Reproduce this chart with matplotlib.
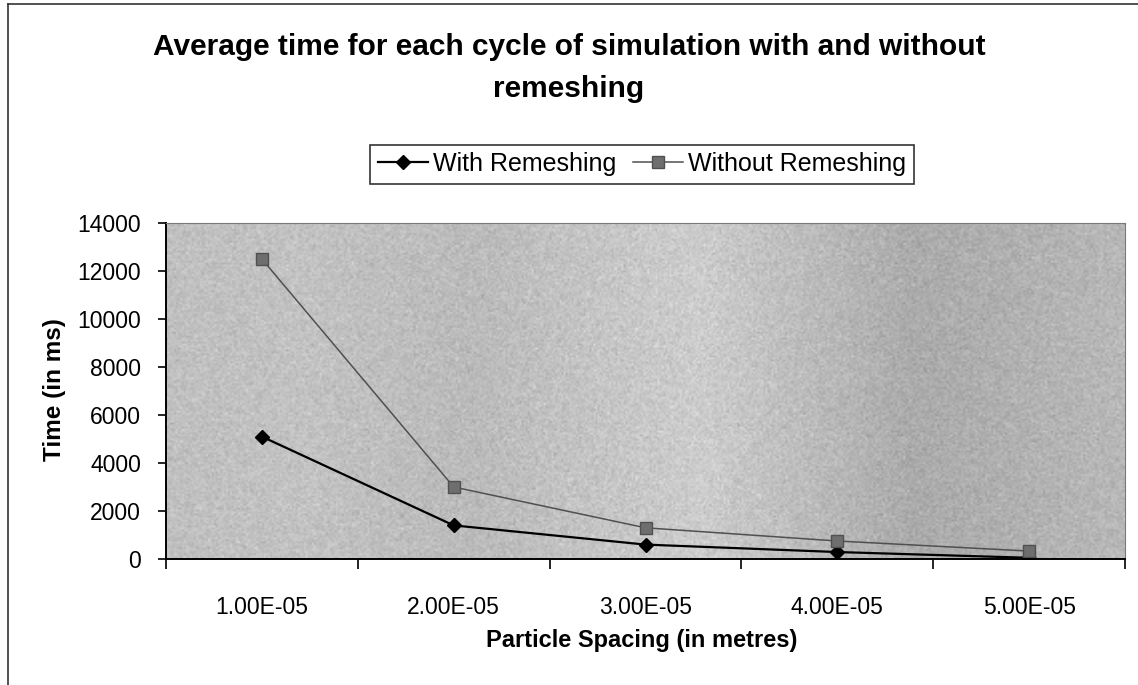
import numpy as np
import matplotlib
matplotlib.use("Agg")
import matplotlib.pyplot as plt
from matplotlib.lines import Line2D

plt.rcParams['font.family'] = ['Liberation Sans', 'DejaVu Sans']

# particle spacing categories and timings (ms)
spacing_labels = ["1.00E-05", "2.00E-05", "3.00E-05", "4.00E-05", "5.00E-05"]
with_remeshing = [5100, 1400, 600, 290, 50]
without_remeshing = [12500, 3000, 1300, 750, 330]

W, H = 1138, 685
fig = plt.figure(figsize=(W / 100, H / 100), dpi=100)
fig.patch.set_facecolor('white')

rect = [166 / W, 1 - 559 / H, (1125 - 166) / W, (559 - 223) / H]

# grainy grey gradient fill behind the plot area
bg = fig.add_axes(rect, zorder=0)
xs = np.linspace(0, 1, 480)
shade = np.interp(xs, [0.0, 0.15, 0.32, 0.48, 0.56, 0.66, 0.78, 0.88, 1.0],
                  [0.75, 0.76, 0.73, 0.78, 0.80, 0.74, 0.67, 0.69, 0.72])
grain = np.random.default_rng(3).normal(0, 0.03, (170, xs.size))
bg.imshow(np.clip(np.tile(shade, (170, 1)) + grain, 0, 1), cmap='gray',
          vmin=0, vmax=1, aspect='auto', interpolation='bilinear',
          extent=[0, 1, 0, 1])
bg.set_axis_off()

ax = fig.add_axes(rect, zorder=1)
ax.set_facecolor('none')

x = np.arange(len(spacing_labels))
ax.plot(x, with_remeshing, color='black', lw=1.6, marker='D', ms=7,
        mfc='black', mec='black', label='With Remeshing')
ax.plot(x, without_remeshing, color='#505050', lw=1.1, marker='s', ms=8.5,
        mfc='#6e6e6e', mec='#505050', label='Without Remeshing')

ax.set_xlim(-0.5, len(spacing_labels) - 0.5)
ax.set_ylim(0, 14000)
ax.set_yticks(np.arange(0, 14001, 2000))
ax.set_xticks(x)
ax.set_xticklabels(spacing_labels)
ax.set_xticks(np.arange(-0.5, len(spacing_labels)), minor=True)

ax.tick_params(axis='y', direction='out', length=6, width=1.2, pad=12,
               labelsize=16.5, colors='black')
ax.tick_params(axis='x', which='major', length=0, pad=27, labelsize=16.5)
ax.tick_params(axis='x', which='minor', direction='out', length=7, width=1.2)

for side in ['left', 'bottom']:
    ax.spines[side].set_color('black')
    ax.spines[side].set_linewidth(1.4)
for side in ['top', 'right']:
    ax.spines[side].set_color('#7a7a7a')
    ax.spines[side].set_linewidth(0.8)

fig.text(0.5, 1 - 68 / H,
         "Average time for each cycle of simulation with and without\nremeshing",
         ha='center', va='center', fontsize=21.5, fontweight='bold',
         linespacing=1.6)
fig.text(54 / W, 1 - 390 / H, "Time (in ms)", rotation=90, ha='center',
         va='center', fontsize=17.5, fontweight='bold')
fig.text(642 / W, 1 - 640 / H, "Particle Spacing (in metres)", ha='center',
         va='center', fontsize=17, fontweight='bold')

leg = ax.legend(loc='center', bbox_to_anchor=(642 / W, 1 - 164 / H),
                bbox_transform=fig.transFigure, ncol=2, fontsize=18,
                frameon=True, fancybox=False, handlelength=2.0,
                handletextpad=0.2, columnspacing=0.7, borderpad=0.3,
                borderaxespad=0)
leg.get_frame().set_edgecolor('black')
leg.get_frame().set_linewidth(1.2)

# outer chart border (left and top edges)
fig.add_artist(Line2D([8 / W, 8 / W], [0, 1 - 4 / H], color='#333333', lw=1.2))
fig.add_artist(Line2D([8 / W, 1], [1 - 4 / H, 1 - 4 / H], color='#333333', lw=1.2))

fig.savefig('out.png', dpi=100)
